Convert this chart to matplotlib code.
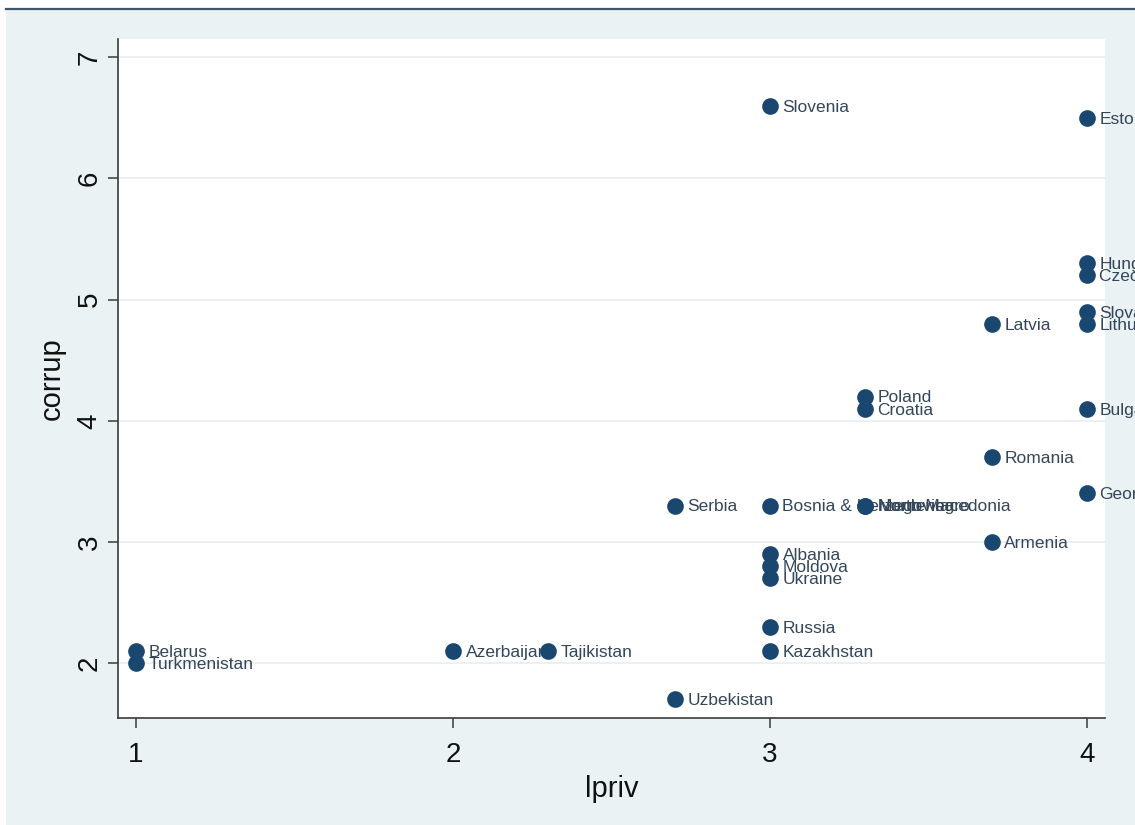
import matplotlib
matplotlib.use("Agg")
import matplotlib.pyplot as plt
from matplotlib.patches import Rectangle
from matplotlib.lines import Line2D

countries = ["Albania", "Armenia", "Azerbaijan", "Belarus", "Bosnia & Herzegovina",
             "Bulgaria", "Croatia", "Czech Republic", "Estonia", "Georgia", "Hungary",
             "Kazakhstan", "Latvia", "Lithuania", "North Macedonia", "Moldova",
             "Montenegro", "Poland", "Romania", "Russia", "Serbia", "Slovakia",
             "Slovenia", "Tajikistan", "Turkmenistan", "Ukraine", "Uzbekistan"]
lpriv = [3.0, 3.7, 2.0, 1.0, 3.0,
         4.0, 3.3, 4.0, 4.0, 4.0, 4.0,
         3.0, 3.7, 4.0, 3.3, 3.0,
         3.3, 3.3, 3.7, 3.0, 2.7, 4.0,
         3.0, 2.3, 1.0, 3.0, 2.7]
corrup = [2.9, 3.0, 2.1, 2.1, 3.3,
          4.1, 4.1, 5.2, 6.5, 3.4, 5.3,
          2.1, 4.8, 4.8, 3.3, 2.8,
          3.3, 4.2, 3.7, 2.3, 3.3, 4.9,
          6.6, 2.1, 2.0, 2.7, 1.7]
xticks = [1, 2, 3, 4]
yticks = [2, 3, 4, 5, 6, 7]

W, H = 1135, 825
fig = plt.figure(figsize=(W / 100, H / 100), dpi=100)
fig.patch.set_facecolor("#eaf2f3")

# white margins + top rule
fig.add_artist(Rectangle((0, 0), 6 / W, 1, transform=fig.transFigure,
                         facecolor="white", edgecolor="none", zorder=-5))
fig.add_artist(Rectangle((0, 1 - 8 / H), 1, 8 / H, transform=fig.transFigure,
                         facecolor="white", edgecolor="none", zorder=-5))
fig.add_artist(Line2D([6 / W, 1], [1 - 9 / H, 1 - 9 / H], transform=fig.transFigure,
                      color="#3f5568", lw=1.6))

left, right, top, bottom = 118, 1105, 39, 718
ax = fig.add_axes([left / W, 1 - bottom / H, (right - left) / W, (bottom - top) / H])
ax.set_facecolor("white")

ax.set_xlim(0.9432, 4.0568)
ax.set_ylim(1.547, 7.151)

ax.set_yticks(yticks)
ax.set_xticks(xticks)
ax.set_yticklabels([str(v) for v in yticks], rotation=90, va="center")
ax.set_xticklabels([str(v) for v in xticks])
ax.grid(axis="y", color="#e9eff1", lw=1.3)
ax.grid(axis="x", visible=False)
ax.set_axisbelow(True)

for s in ["top", "right"]:
    ax.spines[s].set_visible(False)
for s in ["left", "bottom"]:
    ax.spines[s].set_color("#3a3a3a")
    ax.spines[s].set_linewidth(1.2)

ax.tick_params(axis="both", direction="out", length=7, width=1.1, color="#3a3a3a",
               labelsize=20, labelcolor="#111111")
ax.tick_params(axis="y", pad=4)
ax.tick_params(axis="x", pad=10)

font = "Liberation Sans"
for lab in ax.get_xticklabels() + ax.get_yticklabels():
    lab.set_fontfamily(font)

ax.set_xlabel("lpriv", fontsize=21, family=font, color="#111111", labelpad=5)
ax.set_ylabel("corrup", fontsize=21, family=font, color="#111111", labelpad=8)

ax.scatter(lpriv, corrup, s=12 ** 2, color="#1a476f", zorder=4, linewidths=0,
           clip_on=False)
for name, x, y in zip(countries, lpriv, corrup):
    ax.annotate(name, (x, y), xytext=(9, -1), textcoords="offset points",
                va="center", ha="left", fontsize=12.5, family=font,
                color="#34465a", annotation_clip=False, zorder=3)

fig.savefig("out.png", dpi=100, facecolor=fig.get_facecolor())
